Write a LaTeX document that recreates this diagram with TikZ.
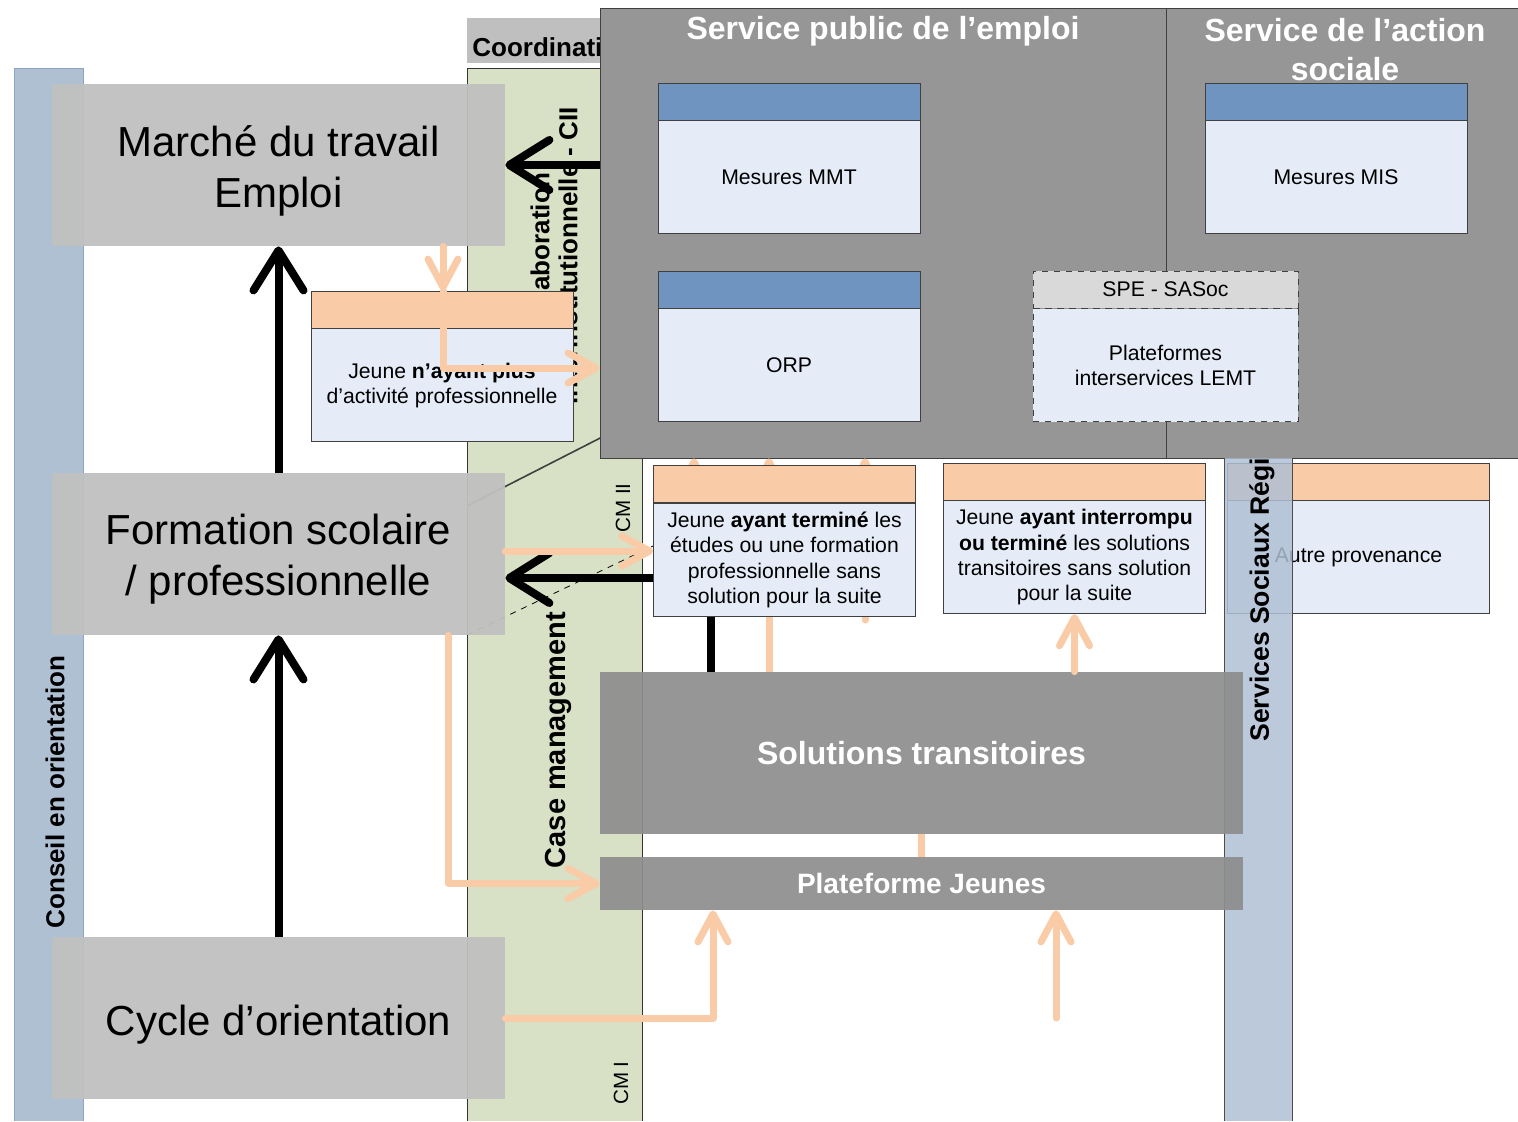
\documentclass[tikz,border=0pt]{standalone}
\usepackage{fontspec}
\setmainfont{Liberation Sans}
\usetikzlibrary{arrows.meta,positioning}

\definecolor{stripblue}{RGB}{175,192,211}
\definecolor{stripedge}{RGB}{141,165,196}
\definecolor{cmgreen}{RGB}{216,224,197}
\definecolor{boxgray}{RGB}{192,192,192}
\definecolor{coordgray}{RGB}{191,191,191}
\definecolor{spegray}{RGB}{150,150,150}
\definecolor{solgray}{RGB}{142,142,142}
\definecolor{headblue}{RGB}{112,148,192}
\definecolor{bodyblue}{RGB}{229,236,247}
\definecolor{headgray}{RGB}{217,217,217}
\definecolor{peach}{RGB}{249,203,166}

\begin{document}
\begin{tikzpicture}[x=0.5pt,y=-0.5pt,
  bigbox/.style={fill=boxgray, fill opacity=0.95, text opacity=1, minimum width=226.5pt,
    minimum height=81pt, align=center, font=\fontsize{21}{25.5}\selectfont},
  head/.style={draw=black!75, minimum width=131pt, minimum height=18.5pt, inner sep=0pt,
    font=\fontsize{10.6}{12.7}\selectfont},
  body/.style={draw=black!75, fill=bodyblue, minimum width=131pt, minimum height=56.5pt,
    inner sep=2pt, align=center, font=\fontsize{10.6}{12.7}\selectfont},
  darkbox/.style={fill=solgray, fill opacity=0.93, text opacity=1, text=white,
    font=\bfseries\fontsize{16}{19}\selectfont, minimum width=321.5pt, inner sep=0pt},
  title/.style={text=white, font=\bfseries\fontsize{16}{19.5}\selectfont, align=center},
  vlabel/.style={rotate=90, font=\bfseries\fontsize{13}{14}\selectfont, align=center, inner sep=0pt},
  cmlabel/.style={rotate=90, font=\fontsize{10.3}{12}\selectfont, inner sep=0pt},
  peacharrow/.style={draw=peach, line width=3.5pt, line cap=round, line join=round,
    -{Straight Barb[round,length=14pt,width=15pt]}},
  peachline/.style={draw=peach, line width=3.5pt},
  bigarrow/.style={draw=black, line width=4pt, -{Straight Barb[round,length=20pt,width=25pt]}}]
  \useasboundingbox (0,0) rectangle (1518,1121);

  % bands
  \fill[stripblue] (14,68) rectangle (83,1121);
  \draw[stripedge] (14,1121) -- (14,68) -- (83,68) -- (83,1121);
  \fill[cmgreen] (467,68) rectangle (642,1121);
  \draw[black!80] (467,1121) -- (467,68) -- (642,68) -- (642,1121);
  \fill[coordgray] (467,18) rectangle (640,63);
  \node[anchor=base west, font=\bfseries\fontsize{13}{14}\selectfont, inner sep=0pt] (coord) at (472,56) {Coordinati};

  \coordinate (zoom-a) at (467,506);
  \coordinate (zoom-b) at (610,433);
  \coordinate (zoom-c) at (467,635);
  \coordinate (zoom-d) at (653,546);
  \draw[black!75, line width=0.8pt] (zoom-a) -- (zoom-b);
  \draw[black, dashed, thin] (zoom-c) -- (zoom-d);

  \node[vlabel] (cii) at (554,256) {Collaboration\\interinstitutionnelle - CII};
  \node[vlabel, font=\bfseries\fontsize{14.5}{16}\selectfont] (cm) at (558,740) {Case management};
  \node[cmlabel] (cm2) at (623,508) {CM II};
  \node[cmlabel] (cm1) at (621,1083) {CM I};
  \node[vlabel] (conseil) at (55,792) {Conseil en orientation};

  % left column
  \node[bigbox, text height=47pt] (marche) at (278.5,165) {Marché du travail\\Emploi};
  \node[bigbox, text height=45.5pt] (formation) at (278.5,554) {Formation scolaire\\/ professionnelle};
  \node[bigbox, text height=21.5pt] (cycle) at (278.5,1018) {Cycle d’orientation};

  % services
  \node[draw=black!75, fill=spegray, minimum width=462pt, minimum height=225pt, inner sep=0pt] (spe) at (1062,233) {};
  \coordinate (split) at (1166,0);
  \draw[black!75] (spe.north -| split) -- (spe.south -| split);
  \node[title] (spe-title) at (883,31) {Service public de l’emploi};
  \node[title] (sas-title) at (1345,50) {Service de l’action\\sociale};

  \node[head, fill=headblue] (mmt-head) at (789,101.5) {};
  \node[body, below=0pt of mmt-head] (mmt) {Mesures MMT};
  \node[head, fill=headblue] (orp-head) at (789,289.5) {};
  \node[body, below=0pt of orp-head] (orp) {ORP};
  \node[head, fill=headblue] (mis-head) at (1336,101.5) {};
  \node[body, below=0pt of mis-head] (mis) {Mesures MIS};
  \node[head, fill=headgray, dashed, minimum width=132.5pt] (sasoc-head) at (1165.5,289.5) {SPE - SASoc};
  \node[body, dashed, minimum width=132.5pt, below=0pt of sasoc-head] (sasoc) {Plateformes\\interservices LEMT};

  \draw[bigarrow] (cycle.north) -- (formation.south);
  \draw[bigarrow] (formation.north) -- (marche.south);
  \draw[bigarrow] (spe.west |- marche.east) -- (marche.east);

  % arrows hidden under the cards
  \coordinate (up-a) at (694,560);
  \coordinate (up-b) at (769,560);
  \coordinate (up-c) at (865,620);
  \foreach \p in {up-a,up-b,up-c}
    \draw[peacharrow] (\p) -- (\p |- spe.south);

  % cards
  \node[head, fill=peach] (termine-head) at (784.5,484) {};
  \node[body, below=0pt of termine-head] (termine) {Jeune \textbf{ayant terminé} les\\études ou une formation\\professionnelle sans\\solution pour la suite};
  \node[head, fill=peach] (interrompu-head) at (1074.5,481.5) {};
  \node[body, below=0pt of interrompu-head] (interrompu) {Jeune \textbf{ayant interrompu}\\\textbf{ou terminé} les solutions\\transitoires sans solution\\pour la suite};
  \node[head, fill=peach] (autre-head) at (1358.5,481.5) {};
  \node[body, below=0pt of autre-head] (autre) {Autre provenance};
  \node[head, fill=peach] (nplus-head) at (442,309.5) {};
  \node[body, below=0pt of nplus-head] (nplus) {Jeune \textbf{n’ayant plus}\\d’activité professionnelle};

  \draw[peacharrow] ([xshift=82.25pt]marche.south) -- ([xshift=82.25pt]marche.south |- nplus-head.north);
  \draw[peacharrow] ([xshift=82.25pt]marche.south |- nplus-head.north) |- ([yshift=-67.5pt]spe.west);

  % services sociaux
  \fill[stripblue, fill opacity=0.85] (1224,458) rectangle (1292,1121);
  \draw[black!70] (1224,458) -- (1224,1121) (1292,458) -- (1292,1121);
  \begin{scope}
    \clip (1200,458) rectangle (1300,1121);
    \node[vlabel, anchor=west, font=\bfseries\fontsize{13.3}{15}\selectfont] (ssr) at (1262,742) {Services Sociaux Régi};
  \end{scope}

  \node[darkbox, minimum height=81pt] (solutions) at (921.5,753) {Solutions transitoires};
  \node[darkbox, minimum height=26.5pt, font=\bfseries\fontsize{14}{16}\selectfont] (plateforme) at (921.5,883.5) {Plateforme Jeunes};

  \draw[bigarrow] ([yshift=-12pt]formation.east -| termine.west) -- ([yshift=-12pt]formation.east);
  \draw[line width=4pt] ([xshift=-36.75pt]termine.south) -- ([xshift=-36.75pt]termine.south |- solutions.north);

  \draw[peacharrow] ([yshift=1.5pt]formation.east) -- ([yshift=1.5pt]formation.east -| termine.west);
  \draw[peachline] (solutions.north -| up-b) -- (termine.south -| up-b);
  \draw[peacharrow] (solutions.north -| interrompu.south) -- (interrompu.south);
  \draw[peachline] (plateforme.north) -- (solutions.south);
  \draw[peacharrow] ([xshift=84.75pt]formation.south) |- (plateforme.west);
  \draw[peacharrow] (cycle.east) -| ([xshift=-104.25pt]plateforme.south);
  \coordinate (other-src) at (1056,1018);
  \draw[peacharrow] (other-src) -- (other-src |- plateforme.south);
\end{tikzpicture}
\end{document}
